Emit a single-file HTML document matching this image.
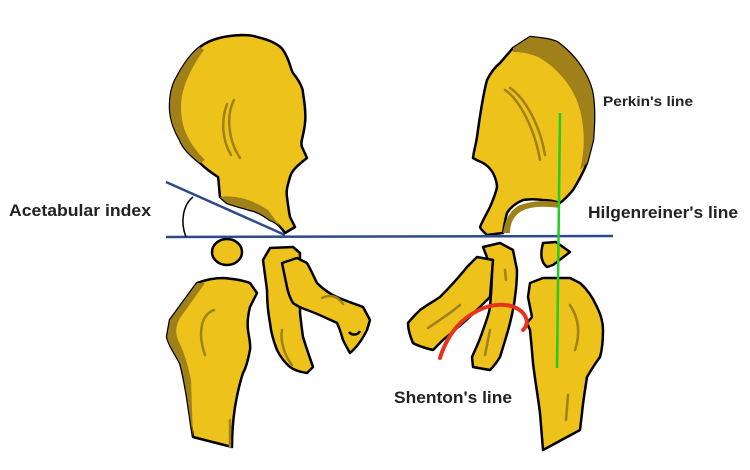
<!DOCTYPE html>
<html><head><meta charset="utf-8"><style>
html,body{margin:0;padding:0;background:#fff;}
svg{display:block}
text{font-family:"Liberation Sans Narrow","Liberation Sans",sans-serif;font-weight:bold;fill:#222}
</style></head><body>
<svg width="750" height="470" viewBox="0 0 750 470" xmlns="http://www.w3.org/2000/svg">
<g stroke="#000" stroke-width="2.5" stroke-linejoin="round" fill="#EDC21A">
<path d="M200,47 C215,35 245,33 257,37 C270,40 280,45 283,50 C290,60 290,68 293,73 C300,82 303,88 303,93 C305,105 306,115 305,123 C304,135 300,142 302,147 L307,158 C298,165 292,170 290,177 C287,187 286,192 287,197 C288,205 289,212 290,217 L295,227 L285,233 C280,226 276,222 270,220 C262,214 256,211 250,210 C240,207 232,205 227,203 L220,197 C219,190 219,182 218,177 C210,172 205,168 200,163 C190,155 183,148 180,140 C173,128 170,118 170,107 C170,95 172,85 177,77 C185,62 192,53 200,47 Z"/>
<path d="M200,47 C192,53 185,62 177,77 C172,85 170,95 170,107 C170,118 173,128 180,140 C183,148 190,155 200,163 L205,160 C195,150 188,140 184,128 C180,115 180,100 184,88 C188,75 195,62 204,50 Z" fill="#A08018" stroke="none"/>
<path d="M220,197 C232,195 250,198 268,210 L285,233 C280,226 276,222 270,220 C262,214 256,211 250,210 C240,207 232,205 227,203 Z" fill="#A08018" stroke="none"/>
<ellipse cx="227" cy="252" rx="15" ry="13"/>
<path d="M170,320 L197,283 C205,280 215,278 223,278 C235,279 245,281 250,283 L257,293 L250,307 C248,315 247,322 248,330 C249,338 251,345 250,350 C248,360 246,368 243,373 C239,385 237,395 235,407 C233,420 232,435 232,447 L193,437 C191,425 189,410 187,397 C185,385 183,373 180,363 C174,352 169,345 167,337 Z"/>
<path d="M170,320 L197,283 L205,283 L180,318 C176,325 175,332 178,340 C184,352 188,365 191,380 L193,437 L193,437 C191,425 189,410 187,397 C185,385 183,373 180,363 C174,352 169,345 167,337 Z" fill="#A08018" stroke="none"/>
<path d="M263,260 L270,248 L293,247 L300,253 L300,313 C301,322 302,330 303,337 C306,347 310,358 313,367 L307,373 C300,372 294,370 290,367 C284,362 280,356 277,350 C273,340 271,332 270,323 C268,312 267,300 267,290 Z"/>
<path d="M282,263 L297,258 L307,263 C311,270 314,277 317,283 C324,290 330,294 337,297 C346,301 355,304 363,307 L370,320 L367,330 C362,340 356,348 350,353 C347,348 345,344 343,340 C341,333 339,327 337,323 C326,318 316,313 307,310 C301,308 297,306 293,303 C290,298 288,292 287,287 Z"/>
<path d="M513,48 L530,37 C540,38 550,39 557,42 C568,50 577,60 583,70 C589,80 592,88 593,97 C595,112 594,126 593,140 C591,148 589,156 587,163 C583,173 578,182 573,190 C568,196 564,200 560,203 C554,201 549,200 543,200 C536,199 529,199 523,200 C516,203 510,208 507,213 C505,220 504,227 503,233 L487,235 C484,232 481,230 480,227 C483,220 487,213 490,207 C493,200 496,193 497,187 C497,182 495,177 493,173 C490,168 487,165 483,163 C479,161 476,160 473,158 C474,150 476,144 477,137 C480,115 483,95 487,80 C491,72 495,67 500,63 Z"/>
<path d="M513,48 L530,37 C540,38 550,39 557,42 C568,50 577,60 583,70 C589,80 592,88 593,97 C595,112 594,126 593,140 C591,148 589,156 587,163 L580,170 C585,150 585,130 580,110 C575,90 560,70 540,58 C530,53 520,52 513,52 Z" fill="#A08018" stroke="none"/>
<path d="M503,233 C505,220 510,210 520,205 C535,200 550,200 560,203 L560,208 C545,206 530,206 520,212 C512,218 510,226 510,233 Z" fill="#A08018" stroke="none"/>
<path d="M543,243 L556,242 L570,252 L553,265 L547,267 C541,262 540,255 543,243 Z"/>
<path d="M530,283 L543,278 L570,278 L580,283 C588,290 593,298 597,307 C601,315 603,322 603,330 C603,340 602,350 600,357 C594,365 590,372 587,377 C585,390 583,402 582,413 L580,430 L543,450 C542,437 541,425 540,413 C538,397 535,380 533,363 C532,350 531,340 530,330 L527,323 L532,317 L528,297 Z"/>
<path d="M483,247 L500,243 L513,250 L517,270 C517,280 516,290 515,297 C514,306 512,315 510,323 C507,335 503,347 500,357 C497,362 493,367 490,370 C484,369 478,368 473,367 L472,357 C476,348 480,340 483,330 C486,322 489,314 490,307 C491,295 492,283 492,270 Z"/>
<path d="M477,257 L493,260 L490,297 C481,306 472,315 463,323 C456,329 449,335 443,340 L433,350 C425,348 418,346 413,343 C410,336 408,330 408,323 C412,318 416,314 420,310 C427,305 434,301 440,297 C450,287 459,277 467,267 Z"/>
</g>
<g stroke="#A08018" stroke-width="2.5" fill="none" stroke-linecap="round">
<path d="M234,100 C226,115 228,140 240,158"/>
<path d="M227,104 C221,120 222,140 231,155"/>
<path d="M214,310 C200,315 198,335 205,355"/>
<path d="M230,420 L230,447"/>
<path d="M282,330 C280,340 284,355 292,365"/>
<path d="M322,298 C330,294 338,296 343,304"/>
<path d="M505,90 C520,100 535,130 540,160"/>
<path d="M510,88 C525,98 540,125 545,155"/>
<path d="M505,270 L506,280"/>
<path d="M428,328 C440,320 452,312 460,305"/>
<path d="M490,330 L485,355"/>
<path d="M570,305 C580,320 580,335 575,350"/>
<path d="M568,395 L566,420"/>
</g>
<path d="M349,332 C352,336 358,335 360,331" stroke="#000" stroke-width="2.5" fill="none"/>
<line x1="166" y1="237" x2="613" y2="236" stroke="#2F4A8A" stroke-width="2.5"/>
<line x1="166" y1="182" x2="285" y2="235" stroke="#2F4A8A" stroke-width="2.5"/>
<path d="M193,197 C183,205 180,222 186,237" stroke="#000" stroke-width="1.5" fill="none"/>
<line x1="560" y1="113" x2="557" y2="368" stroke="#22CC22" stroke-width="2.5"/>
<path d="M440,358 C448,332 465,313 490,306 C508,302 522,308 526,318 C528,323 526,327 523,330" stroke="#E8331C" stroke-width="4" fill="none" stroke-linecap="round"/>
<text x="9" y="216" font-size="17" textLength="142" lengthAdjust="spacingAndGlyphs">Acetabular index</text>
<text x="603" y="106" font-size="14" textLength="90" lengthAdjust="spacingAndGlyphs">Perkin's line</text>
<text x="588" y="218" font-size="17" textLength="150" lengthAdjust="spacingAndGlyphs">Hilgenreiner's line</text>
<text x="394" y="403" font-size="17" textLength="118" lengthAdjust="spacingAndGlyphs">Shenton's line</text>
</svg>
</body></html>
